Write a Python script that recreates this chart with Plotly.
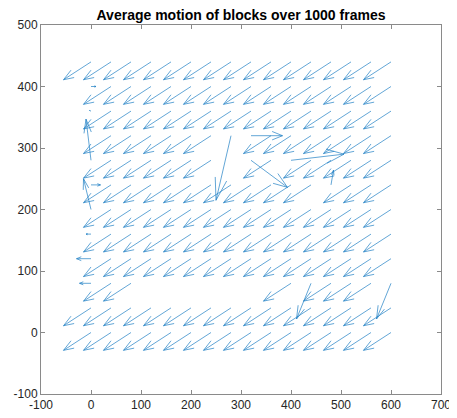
import plotly.graph_objects as go

# Grid of block positions (tails of the arrows)
X_POS = [0, 40, 80, 120, 160, 200, 240, 280, 320, 360, 400, 440, 480, 520, 560, 600]
Y_POS = [440, 400, 360, 320, 280, 240, 200, 160, 120, 80, 40, 0]  # rows, top to bottom

_ = None  # no arrow drawn for this block

# Horizontal motion (u) per row (same order as Y_POS), per column (same order as X_POS)
U = [
    [-55, -55, -55, -55, -55, -55, -55, -55, -55, -55, -55, -55, -55, -55, -55, -55],
    [10, -55, -55, -55, -55, -55, -55, -55, -55, -55, -55, -55, -55, -55, -55, -55],
    [-3, -55, -55, -55, -55, -55, -55, -55, -55, -55, -55, -55, -55, -55, -55, -55],
    [_, -55, -55, -55, -55, -55, -55, -30, 63, -55, -55, -55, -55, -55, -55, -55],
    [-10, -55, -55, -55, -55, -55, -55, _, 73, -55, 106, -55, -55, -55, -55, -55],
    [19, -55, -55, -55, -55, -55, -55, -55, -55, -55, -55, -55, 5, -55, -55, -55],
    [-15, -55, -55, -55, -55, -55, -55, -55, -55, -55, -55, -55, -55, -55, -55, -55],
    [-10, -55, -55, -55, -55, -55, -55, -55, -55, -55, -55, -55, -55, -55, -55, -55],
    [-29, -55, -55, -55, -55, -55, -55, -55, -55, -55, -55, -55, -55, -55, -55, -55],
    [-23, -55, -55, _, _, _, _, _, _, _, -55, -29, -55, -55, -55, -29],
    [-55, -55, -55, -55, -55, -55, -55, -55, -55, -55, -55, -55, -55, -55, -55, -55],
    [-55, -55, -55, -55, -55, -55, -55, -55, -55, -55, -55, -55, -55, -55, -55, -55],
]

# Vertical motion (v)
V = [
    [-29, -29, -29, -29, -29, -29, -29, -29, -29, -29, -29, -29, -29, -29, -29, -29],
    [0, -29, -29, -29, -29, -29, -29, -29, -29, -29, -29, -29, -29, -29, -29, -29],
    [1, -29, -29, -29, -29, -29, -29, -29, -29, -29, -29, -29, -29, -29, -29, -29],
    [_, -29, -29, -29, -29, -29, -29, -105, 0, -29, -29, -29, -29, -29, -29, -29],
    [67, -29, -29, -29, -29, -29, -29, _, -44, -29, 10, -29, -29, -29, -29, -29],
    [0, -29, -29, -29, -29, -29, -29, -29, -29, -29, -29, -29, 24, -29, -29, -29],
    [50, -29, -29, -29, -29, -29, -29, -29, -29, -29, -29, -29, -29, -29, -29, -29],
    [0, -29, -29, -29, -29, -29, -29, -29, -29, -29, -29, -29, -29, -29, -29, -29],
    [0, -29, -29, -29, -29, -29, -29, -29, -29, -29, -29, -29, -29, -29, -29, -29],
    [0, -29, -29, _, _, _, _, _, _, _, -29, -58, -29, -29, -29, -58],
    [-29, -29, -29, -29, -29, -29, -29, -29, -29, -29, -29, -29, -29, -29, -29, -29],
    [-29, -29, -29, -29, -29, -29, -29, -29, -29, -29, -29, -29, -29, -29, -29, -29],
]

X_TICKS = [-100, 0, 100, 200, 300, 400, 500, 600, 700]
Y_TICKS = [-100, 0, 100, 200, 300, 400, 500]
TITLE = "Average motion of blocks over 1000 frames"

# quiver-style arrow heads (head length / width relative to vector)
ALPHA = 0.33
BETA = 0.33

lx, ly = [], []
for r, y in enumerate(Y_POS):
    for c, x in enumerate(X_POS):
        u = U[r][c]
        v = V[r][c]
        if u is None or v is None:
            continue
        hx, hy = x + u, y + v
        # shaft
        lx += [x, hx, None]
        ly += [y, hy, None]
        # head
        lx += [hx - ALPHA * (u + BETA * v), hx, hx - ALPHA * (u - BETA * v), None]
        ly += [hy - ALPHA * (v - BETA * u), hy, hy - ALPHA * (v + BETA * u), None]

fig = go.Figure()
fig.add_trace(go.Scatter(
    x=lx, y=ly, mode="lines",
    line=dict(color="#1f7fc4", width=0.7),
    hoverinfo="skip", showlegend=False,
))

axis_common = dict(
    showgrid=False, zeroline=False, showline=True, mirror="ticks",
    linecolor="#8a8a8a", linewidth=1,
    ticks="inside", ticklen=4, tickcolor="#8a8a8a", tickwidth=1,
    ticklabeloverflow="allow",
    tickfont=dict(family="Liberation Sans, Arial, sans-serif", size=12, color="#262626"),
)

FIG_W, FIG_H = 449, 410

fig.update_layout(
    width=FIG_W, height=FIG_H,
    margin=dict(l=32, r=6, t=16.5, b=22.7),
    paper_bgcolor="white", plot_bgcolor="white",
    title=dict(
        text="<b>" + TITLE + "</b>",
        x=0.5, xref="paper", xanchor="center",
        y=1 - 7 / FIG_H, yref="container", yanchor="middle",
        font=dict(family="Liberation Sans, Arial, sans-serif", size=14, color="#000000"),
    ),
    xaxis=dict(range=[-100, 700], tickvals=X_TICKS, ticktext=[str(t) for t in X_TICKS], **axis_common),
    yaxis=dict(range=[-100, 500], tickvals=Y_TICKS, ticktext=[str(t) for t in Y_TICKS], **axis_common),
)

fig.write_html("out.html")
